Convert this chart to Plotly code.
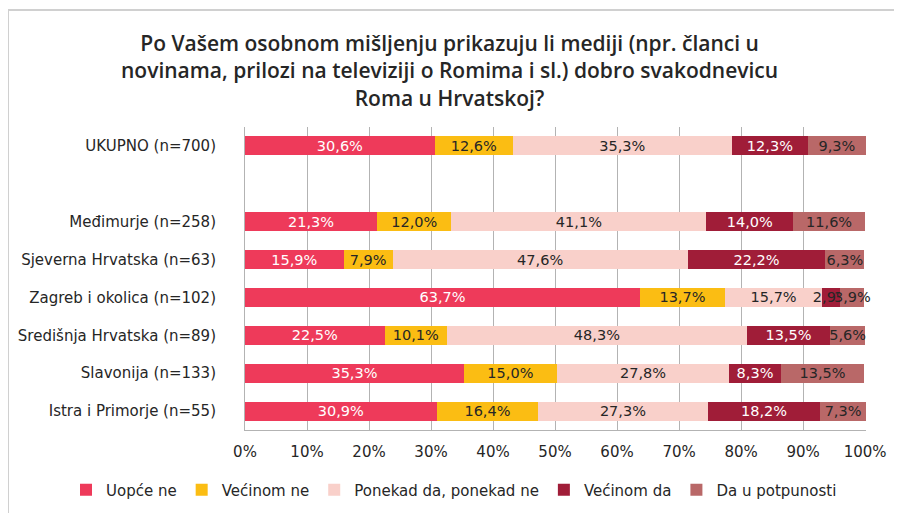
import plotly.graph_objects as go

categories = ["UKUPNO (n=700)", " ", "Međimurje (n=258)", "Sjeverna Hrvatska (n=63)",
              "Zagreb i okolica (n=102)", "Središnja Hrvatska (n=89)",
              "Slavonija (n=133)", "Istra i Primorje (n=55)"]
series_names = ["Uopće ne", "Većinom ne", "Ponekad da, ponekad ne", "Većinom da", "Da u potpunosti"]
uopce_ne = [30.6, None, 21.3, 15.9, 63.7, 22.5, 35.3, 30.9]
vecinom_ne = [12.6, None, 12.0, 7.9, 13.7, 10.1, 15.0, 16.4]
ponekad = [35.3, None, 41.1, 47.6, 15.7, 48.3, 27.8, 27.3]
vecinom_da = [12.3, None, 14.0, 22.2, 2.9, 13.5, 8.3, 18.2]
da_potpuno = [9.3, None, 11.6, 6.3, 3.9, 5.6, 13.5, 7.3]
tick_vals = [0, 10, 20, 30, 40, 50, 60, 70, 80, 90, 100]
tick_text = ["0%", "10%", "20%", "30%", "40%", "50%", "60%", "70%", "80%", "90%", "100%"]

colors = ["#EE3A5A", "#FBBD13", "#F9D0CA", "#A01D38", "#B96868"]
text_colors = ["#FFFFFF", "#262626", "#262626", "#FFFFFF", "#262626"]
series = [uopce_ne, vecinom_ne, ponekad, vecinom_da, da_potpuno]
DARK = "#262626"

FONT = "DejaVu Sans"
TFONT = "Open Sans"

# figure is drawn 8px in from the page's top-left corner
W, H = 894, 505
L, R, T, B = 237, 36, 119, 83
PW, PH = W - L - R, H - T - B


def px_x(fx):
    return (fx - L) / PW


def px_y(fy):
    return (H - B - fy) / PH


fig = go.Figure()
for name, vals, c, tc in zip(series_names, series, colors, text_colors):
    txt = ["" if v is None else f"{v:.1f}%".replace(".", ",") for v in vals]
    # labels too wide for their segment spill onto neighbours: draw them dark
    tcs = [DARK if (v is not None and v < 5) else tc for v in vals]
    fig.add_trace(go.Bar(
        y=categories, x=vals, name=name, orientation="h",
        marker=dict(color=c, line=dict(width=0)),
        text=txt, textposition="inside", insidetextanchor="middle", textangle=0,
        textfont=dict(color=tcs, size=14.5, family=FONT),
        width=0.5, hoverinfo="skip", cliponaxis=False,
    ))

fig.update_layout(
    barmode="stack",
    width=W, height=H,
    margin=dict(l=L, r=R, t=T, b=B, autoexpand=False),
    paper_bgcolor="white", plot_bgcolor="white",
    font=dict(family=FONT, size=15, color=DARK),
    uniformtext=dict(minsize=14.5, mode="show"),
    showlegend=True,
    legend=dict(orientation="h", x=px_x(58), xanchor="left",
                y=px_y(482), yanchor="middle",
                font=dict(size=15, family=FONT, color=DARK),
                traceorder="normal", itemwidth=30),
    xaxis=dict(range=[0, 100.15], tickvals=tick_vals, ticktext=tick_text,
               showgrid=True, gridcolor="#B3B3B3", gridwidth=1,
               zeroline=False, showline=True, linecolor="#B3B3B3", linewidth=1,
               ticks="", ticklabelstandoff=8, fixedrange=True,
               tickfont=dict(size=15, family=FONT, color=DARK)),
    yaxis=dict(categoryorder="array", categoryarray=categories,
               range=[len(categories) - 0.5, -0.5], showgrid=False, showline=True,
               linecolor="#B3B3B3", ticks="", ticklabelstandoff=25,
               tickfont=dict(size=15, family=FONT, color=DARK)),
)

fig.add_annotation(
    text="Po Vašem osobnom mišljenju prikazuju li mediji (npr. članci u<br>"
         "novinama, prilozi na televiziji o Romima i sl.) dobro svakodnevicu<br>"
         "Roma u Hrvatskoj?",
    xref="paper", yref="paper", x=px_x(441), y=px_y(19),
    xanchor="center", yanchor="top", align="center", showarrow=False,
    font=dict(family=TFONT, size=21, color=DARK, weight=600),
)

# chart outer border (top and left edges visible)
fig.add_shape(type="line", xref="paper", yref="paper",
              x0=px_x(0), x1=px_x(W), y0=px_y(2), y1=px_y(2),
              line=dict(color="#D0D0D0", width=2))
fig.add_shape(type="line", xref="paper", yref="paper",
              x0=px_x(0), x1=px_x(0), y0=px_y(2), y1=px_y(H),
              line=dict(color="#D0D0D0", width=2))

fig.write_html("out.html")
